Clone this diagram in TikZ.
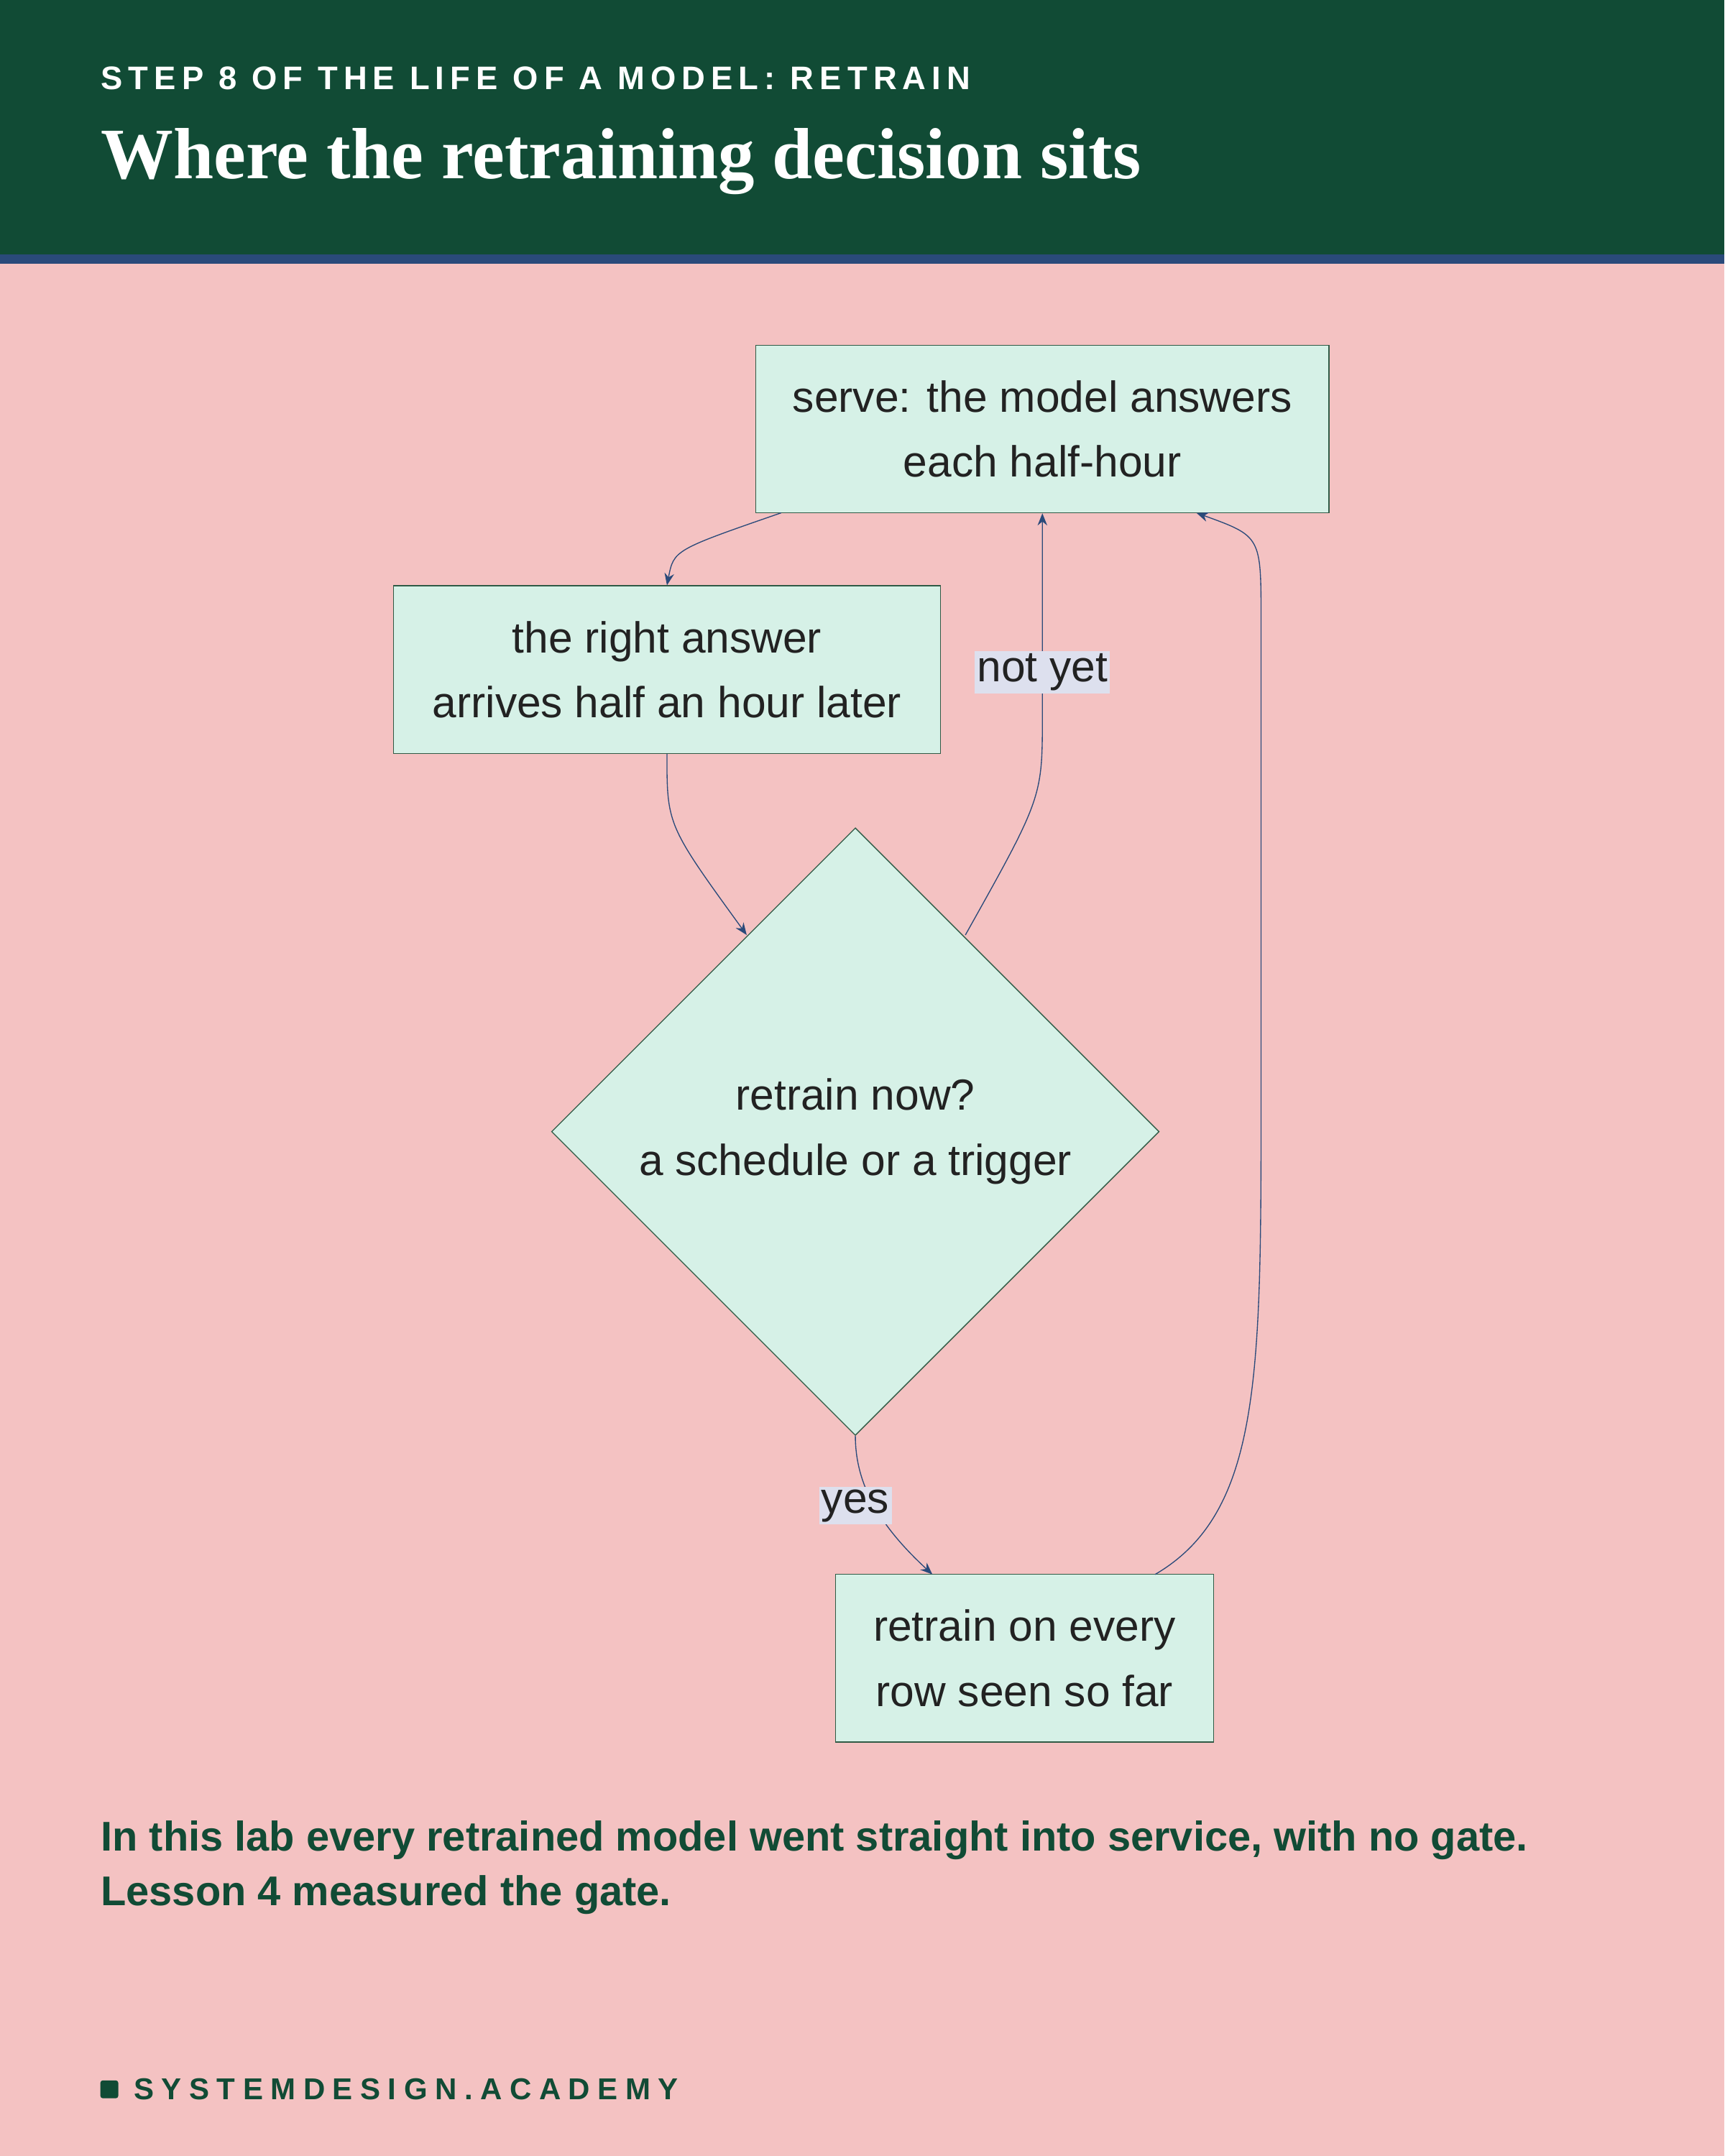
\documentclass[tikz,border=0pt]{standalone}
\usepackage{fontspec}
\setmainfont{Liberation Serif}
\setsansfont{Liberation Sans}
\usetikzlibrary{shapes.geometric,arrows.meta}
\definecolor{hdr}{HTML}{114B35}
\definecolor{stripe}{HTML}{2A4A7A}
\definecolor{bgpink}{HTML}{F4C2C2}
\definecolor{boxfill}{HTML}{D6F1E7}
\definecolor{boxline}{HTML}{2F5A45}
\definecolor{lblbg}{HTML}{DDE0EE}
\definecolor{txt}{HTML}{222222}
\tikzset{
  procbox/.style={draw=boxline, fill=boxfill, minimum width=8.34cm, minimum height=2.44cm,
    align=center, font=\sffamily\fontsize{18}{27}\selectfont, text=txt},
  flow/.style={draw=stripe, -{Stealth[length=5pt,width=4pt]}},
  tag/.style={fill=lblbg, inner sep=1pt, font=\sffamily\fontsize{18}{20}\selectfont, text=txt}
}
\begin{document}
\begin{tikzpicture}[x=0.02cm,y=-0.02cm]
    % background
    \fill[bgpink] (0,0) rectangle (1254,1568);
    \fill[hdr] (0,0) rectangle (1254,185);
    \fill[stripe] (0,185) rectangle (1254,192);
    % header
    \node[anchor=base west, text=white, inner sep=0, font=\sffamily\bfseries\fontsize{13.5}{15}\selectfont] (kicker) at (73,65)
      {\addfontfeature{LetterSpace=18}STEP 8 OF THE LIFE OF A MODEL: RETRAIN};
    \node[anchor=base west, text=white, inner sep=0, font=\bfseries\fontsize{30}{34}\selectfont] (title) at (73,130)
      {Where the retraining decision sits};
    % nodes
    \node[procbox] (serve) at (758,312) {serve: the model answers\\each half-hour};
    \node[procbox, minimum width=7.96cm] (answer) at (485,487) {the right answer\\arrives half an hour later};
    \node[diamond, draw=boxline, fill=boxfill, minimum width=8.84cm, minimum height=8.84cm, inner sep=0,
      align=center, font=\sffamily\fontsize{18}{27}\selectfont, text=txt] (decide) at (622,823)
      {retrain now?\\a schedule or a trigger};
    \node[procbox, minimum width=5.5cm] (retrain) at (745,1206) {retrain on every\\row seen so far};
    % connectors
    \draw[flow] (568,373) .. controls (490,400) .. (answer.north);
    \draw[flow] (answer.south) .. controls (485,600) .. (543,680);
    \draw[flow] (702,680) .. controls (758,580) .. (758,520) -- (serve.south);
    \node[tag] (nylbl) at (758,489) {not yet};
    \draw[flow] (decide.south) .. controls (622,1080) and (640,1110) .. (678,1145);
    \node[tag] (yes) at (622,1095) {yes};
    \draw[flow] (840,1145) .. controls (917,1100) and (917,1000) .. (917,800)
      -- (917,450) .. controls (917,390) .. (870,373);
    % footer
    \node[anchor=base west, inner sep=0, align=left, text=hdr,
      font=\sffamily\bfseries\fontsize{17.2}{22.7}\selectfont] (note) at (73,1386)
      {In this lab every retrained model went straight into service, with no gate.\\Lesson 4 measured the gate.};
    \fill[hdr, rounded corners=1pt] (73,1513) rectangle (86,1526);
    \node[anchor=base west, inner sep=0, text=hdr, font=\sffamily\bfseries\fontsize{12.5}{14}\selectfont] (brand) at (97,1527)
      {\addfontfeature{LetterSpace=25}SYSTEMDESIGN.ACADEMY};
\end{tikzpicture}
\end{document}
